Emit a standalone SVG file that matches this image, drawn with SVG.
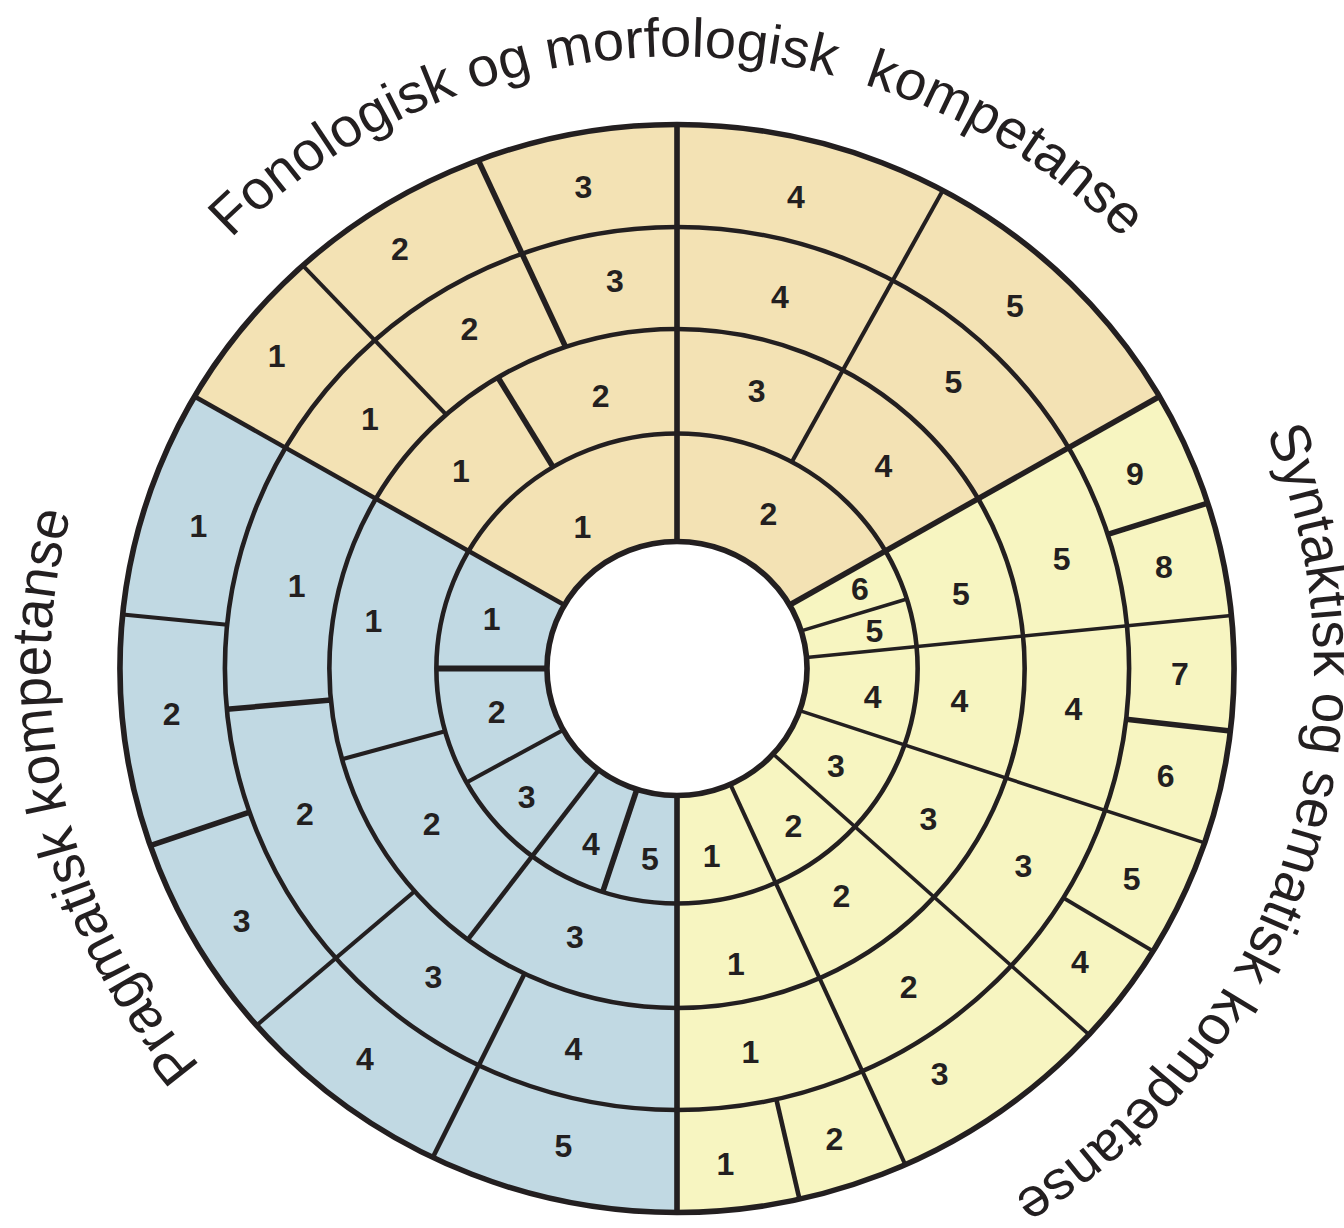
<svg xmlns="http://www.w3.org/2000/svg" width="1344" height="1228" viewBox="0 0 1344 1228">
<style>
.ln{stroke:#231f20;fill:none;stroke-width:3.5;stroke-linecap:butt}
.tk{stroke-width:5.5}
.ring{fill:none;stroke:#231f20;stroke-width:4.5}
.n{font-family:"Liberation Sans",Arial,sans-serif;font-weight:bold;font-size:32px;fill:#231f20;text-anchor:middle}
.t{font-family:"Liberation Sans",Arial,sans-serif;font-size:55px;fill:#231f20;text-anchor:middle}
.or{fill:#F3E2B4}
.bl{fill:#C1D9E3}
.ye{fill:#F7F5C1}
</style>
<defs>
<path id="arcA" d="M 0,612 A 612 612 0 1 1 0,-612 A 612 612 0 1 1 0,612"/>
<path id="arcB" d="M 0,622 A 622 622 0 1 1 0,-622 A 622 622 0 1 1 0,622"/>
</defs>
<rect width="1344" height="1228" fill="#ffffff"/>

<g id="fonologisk">
<path class="or" transform="translate(677 668.5) scale(1.024 1)" d="M 471.12,-272 A 544 544 0 0 0 -471.12,-272 L -109.99,-63.5 A 127 127 0 0 1 109.99,-63.5 Z"/>
</g>
<g id="pragmatisk">
<path class="bl" transform="translate(677 668.5) scale(1.024 1)" d="M -471.12,-272 A 544 544 0 0 0 0,544 L 0,127 A 127 127 0 0 1 -109.99,-63.5 Z"/>
</g>
<g id="syntaktisk">
<path class="ye" transform="translate(677 668.5) scale(1.024 1)" d="M 0,544 A 544 544 0 0 0 471.12,-272 L 109.99,-63.5 A 127 127 0 0 1 0,127 Z"/>
</g>

<g id="connectors" transform="translate(677 668.5) scale(1.024 1)">
<line class="ln" x1="-109.99" y1="-63.5" x2="-471.12" y2="-272" style="stroke-width:4.5"/>
<line class="ln tk" x1="0" y1="-127" x2="0" y2="-544"/>
<line class="ln tk" x1="109.99" y1="-63.5" x2="471.12" y2="-272"/>
<line class="ln tk" x1="-121.0" y1="-201.4" x2="-174.8" y2="-291.0"/>
<line class="ln" x1="112.1" y1="-206.5" x2="259.6" y2="-478.1" style="stroke-width:4"/>
<line class="ln" x1="-225.4" y1="-253.9" x2="-365.4" y2="-403.0" style="stroke-width:4"/>
<line class="ln tk" x1="-108.8" y1="-321.6" x2="-194.0" y2="-508.2"/>
<line class="ln" x1="-127" y1="0" x2="-235" y2="0" style="stroke-width:6"/>
<line class="ln" x1="-111.1" y1="61.6" x2="-205.5" y2="113.9" style="stroke-width:4"/>
<line class="ln" x1="-76.4" y1="101.4" x2="-204.3" y2="271.1" style="stroke-width:4.5"/>
<line class="ln tk" x1="-39.2" y1="120.8" x2="-72.6" y2="223.5"/>
<line class="ln tk" x1="0" y1="127" x2="0" y2="544"/>
<line class="ln" x1="-226.4" y1="62.8" x2="-327.2" y2="90.7" style="stroke-width:4"/>
<line class="ln tk" x1="-338.0" y1="31.4" x2="-439.6" y2="40.8"/>
<line class="ln" x1="-256.2" y1="222.7" x2="-410.6" y2="356.9" style="stroke-width:4"/>
<line class="ln" x1="-148.8" y1="305.1" x2="-238.5" y2="488.9" style="stroke-width:4.5"/>
<line class="ln" x1="-439.3" y1="-43.8" x2="-541.3" y2="-54.0" style="stroke-width:4"/>
<line class="ln tk" x1="-417.4" y1="143.7" x2="-514.4" y2="177.1"/>
<line class="ln" x1="121.3" y1="-37.6" x2="224.5" y2="-69.5"/>
<line class="ln" x1="126.5" y1="-11.1" x2="541.4" y2="-53.1"/>
<line class="ln" x1="119.8" y1="42.2" x2="515.3" y2="174.4"/>
<line class="ln" x1="93.9" y1="85.5" x2="402.3" y2="366.1"/>
<line class="ln" x1="52.1" y1="115.8" x2="223.0" y2="496.2" style="stroke-width:4"/>
<line class="ln tk" x1="420.6" y1="-134.2" x2="518.3" y2="-165.4"/>
<line class="ln tk" x1="438.6" y1="50.7" x2="540.4" y2="62.5"/>
<line class="ln" x1="377.3" y1="229.4" x2="464.8" y2="282.6" style="stroke-width:4"/>
<line class="ln" x1="97.0" y1="430.7" x2="119.6" y2="530.7" style="stroke-width:4.5"/>
<circle class="ring" r="235"/>
<circle class="ring" r="339.5"/>
<circle class="ring" r="441.5"/>
<circle class="ring" r="544" style="stroke-width:5.5"/>
<circle r="127" fill="#ffffff" stroke="#231f20" stroke-width="5.5"/>
</g>

<g id="labels-fonologisk">
<text class="n" x="582.3" y="538.2">1</text>
<text class="n" x="768.3" y="524.8">2</text>
<text class="n" x="461" y="481.5">1</text>
<text class="n" x="600.7" y="406.5">2</text>
<text class="n" x="756.7" y="401.5">3</text>
<text class="n" x="883.3" y="476.5">4</text>
<text class="n" x="370" y="429.8">1</text>
<text class="n" x="469.3" y="339.8">2</text>
<text class="n" x="615" y="291.5">3</text>
<text class="n" x="780" y="308.2">4</text>
<text class="n" x="953.3" y="393.2">5</text>
<text class="n" x="276.7" y="366.5">1</text>
<text class="n" x="400" y="259.8">2</text>
<text class="n" x="583.3" y="198.2">3</text>
<text class="n" x="796" y="208.2">4</text>
<text class="n" x="1015" y="316.5">5</text>
</g>
<g id="labels-pragmatisk">
<text class="n" x="491.7" y="629.8">1</text>
<text class="n" x="496.7" y="723.2">2</text>
<text class="n" x="526.7" y="808.2">3</text>
<text class="n" x="591" y="854.8">4</text>
<text class="n" x="650" y="869.8">5</text>
<text class="n" x="373.3" y="631.5">1</text>
<text class="n" x="431.7" y="834.8">2</text>
<text class="n" x="575" y="948.2">3</text>
<text class="n" x="296.7" y="596.5">1</text>
<text class="n" x="305" y="824.8">2</text>
<text class="n" x="433.3" y="988.2">3</text>
<text class="n" x="573.3" y="1059.8">4</text>
<text class="n" x="198.3" y="536.5">1</text>
<text class="n" x="171.7" y="724.8">2</text>
<text class="n" x="241.7" y="931.5">3</text>
<text class="n" x="365" y="1069.8">4</text>
<text class="n" x="563.3" y="1156.5">5</text>
</g>
<g id="labels-syntaktisk">
<text class="n" x="860" y="599.8">6</text>
<text class="n" x="874.3" y="641.5">5</text>
<text class="n" x="872.7" y="708.2">4</text>
<text class="n" x="836" y="776.5">3</text>
<text class="n" x="793.3" y="836.5">2</text>
<text class="n" x="711.7" y="866.5">1</text>
<text class="n" x="961" y="604.8">5</text>
<text class="n" x="959.3" y="711.5">4</text>
<text class="n" x="928.3" y="829.8">3</text>
<text class="n" x="841.4" y="906.5">2</text>
<text class="n" x="736" y="974.8">1</text>
<text class="n" x="1061.7" y="569.8">5</text>
<text class="n" x="1073.3" y="719.8">4</text>
<text class="n" x="1023.3" y="876.5">3</text>
<text class="n" x="908.6" y="998.2">2</text>
<text class="n" x="750.4" y="1063.2">1</text>
<text class="n" x="1135" y="484.8">9</text>
<text class="n" x="1164" y="578.2">8</text>
<text class="n" x="1180" y="684.8">7</text>
<text class="n" x="1165.7" y="786.5">6</text>
<text class="n" x="1131.7" y="889.8">5</text>
<text class="n" x="1080" y="973.2">4</text>
<text class="n" x="939.6" y="1084.8">3</text>
<text class="n" x="834.3" y="1149.8">2</text>
<text class="n" x="725.4" y="1174.8">1</text>
</g>

<g id="titles" transform="translate(677 668.5) scale(1.024 1)">
<text class="t"><textPath href="#arcA" startOffset="1922.7">Fonologisk og morfologisk&#160; kompetanse</textPath></text>
<text class="t"><textPath href="#arcB" startOffset="3125.4">Syntaktisk og sematisk kompetanse</textPath></text>
<text class="t"><textPath href="#arcA" startOffset="823.5">Pragmatisk kompetanse</textPath></text>
</g>
</svg>
